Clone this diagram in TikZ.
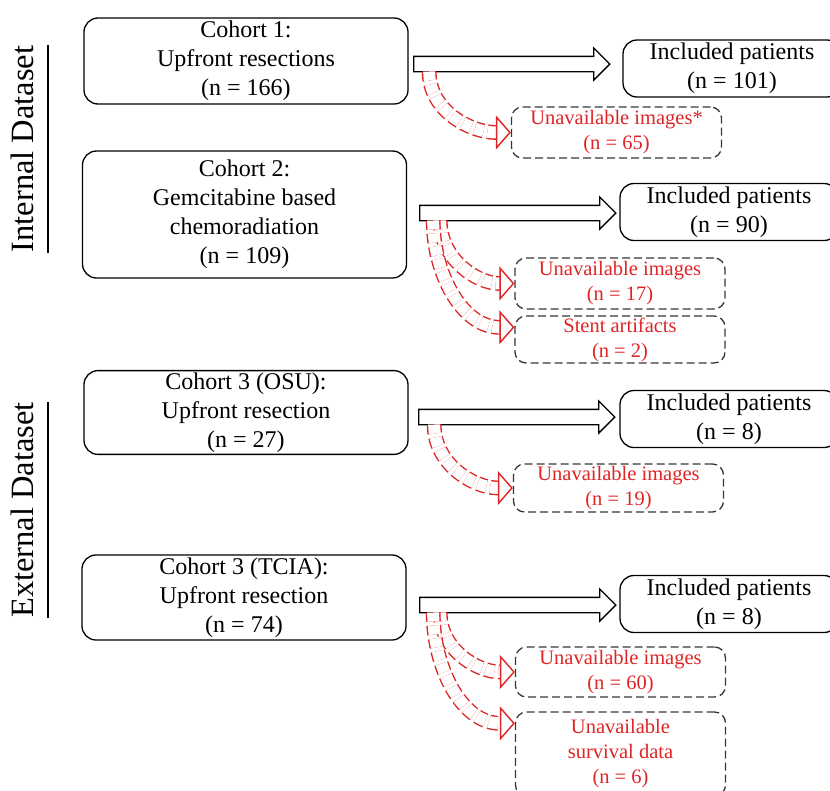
\documentclass[tikz,border=0pt]{standalone}
\usepackage{fontspec}
\setmainfont{Liberation Serif}
\usetikzlibrary{shapes.arrows,arrows.meta}
\definecolor{exred}{RGB}{222,36,36}
\definecolor{dashgray}{RGB}{55,55,55}
\tikzset{
  cohort/.style={draw, line width=1.3pt, rounded corners=14pt, align=center,
    minimum width=324pt, inner sep=2pt, font=\fontsize{24}{29}\selectfont},
  included/.style={cohort, minimum width=218pt, minimum height=57pt},
  excluded/.style={draw=dashgray, line width=1.3pt, dash pattern=on 8pt off 4pt,
    rounded corners=11pt, align=center, text=exred, minimum width=210pt,
    inner sep=1pt, font=\fontsize{20.5}{25}\selectfont},
  flow/.style={single arrow, draw, line width=1.3pt, minimum height=196pt,
    inner xsep=0pt, inner ysep=7pt, single arrow head extend=8.5pt},
  drop/.style={draw=exred, double=white, double distance=12pt, line width=1.4pt,
    dash pattern=on 9pt off 4pt,
    -{Triangle[open,length=15pt,width=34pt,line width=1.4pt]}},
  dataset/.style={rotate=90, anchor=base, inner sep=0pt,
    font=\fontsize{32.5}{38}\selectfont}
}
\begin{document}
\begin{tikzpicture}[x=1pt,y=-1pt]
    \useasboundingbox (0,0) rectangle (830,790);

    % Dataset labels:
    % Rotated text, underlined by a line on its right side
    \node [dataset] (intl) at (33,149) {Internal Dataset};
    \node [dataset] (extl) at (33,510) {External Dataset};
    \draw [line width=1.6pt] ([xshift=15pt]intl.base west) -- ([xshift=15pt]intl.base east);
    \draw [line width=1.6pt] ([xshift=15pt]extl.base west) -- ([xshift=15pt]extl.base east);

    % Cohorts:
    \node [cohort, minimum height=86pt]  (c1) at (246,61)      {Cohort 1:\\Upfront resections\\(n = 166)};
    \node [cohort, minimum height=127pt] (c2) at (244.5,214.5) {Cohort 2:\\Gemcitabine based\\chemoradiation\\(n = 109)};
    \node [cohort, minimum height=83pt]  (c3) at (246,412.5)   {Cohort 3 (OSU):\\Upfront resection\\(n = 27)};
    \node [cohort, minimum height=85pt]  (c4) at (244,597.5)   {Cohort 3 (TCIA):\\Upfront resection\\(n = 74)};

    % Block arrows and included patients:
    \node [flow] (a1) at (508,64)  {};
    \node [flow] (a2) at (514,213) {};
    \node [flow] (a3) at (513,417) {};
    \node [flow] (a4) at (514,605) {};

    \node [included] (i1) at (732,68.5) {Included patients\\(n = 101)};
    \node [included] (i2) at (729,212)  {Included patients\\(n = 90)};
    \node [included] (i3) at (729,419)  {Included patients\\(n = 8)};
    \node [included] (i4) at (729,604)  {Included patients\\(n = 8)};

    % Excluded patients:
    % Dashed boxes with red text
    \node [excluded, minimum height=51pt] (e1) at (616.5,132.5) {Unavailable images*\\(n = 65)};
    \node [excluded, minimum height=51pt] (e2) at (620,283.5)   {Unavailable images\\(n = 17)};
    \node [excluded, minimum height=47pt] (e3) at (620,339.5)   {Stent artifacts\\(n = 2)};
    \node [excluded, minimum height=48pt] (e4) at (618.5,488)   {Unavailable images\\(n = 19)};
    \node [excluded, minimum height=50pt] (e5) at (620.5,672)   {Unavailable images\\(n = 60)};
    \node [excluded, minimum height=84pt] (e6) at (620.5,754)   {Unavailable\\survival data\\(n = 6)};

    % Red dashed arrows, bending down from below the block arrows
    \draw [drop] ([xshift=16pt,yshift=-7.5pt]a1.tail) to[out=-90,in=180] (e1.west);
    \draw [drop] ([xshift=21pt,yshift=-7.5pt]a2.tail) to[out=-90,in=180] (e2.west);
    \draw [drop] ([xshift=14pt,yshift=-7.5pt]a2.tail) to[out=-90,in=180] ([yshift=-12pt]e3.north west);
    \draw [drop] ([xshift=16pt,yshift=-7.5pt]a3.tail) to[out=-90,in=180] (e4.west);
    \draw [drop] ([xshift=21pt,yshift=-7.5pt]a4.tail) to[out=-90,in=180] (e5.west);
    \draw [drop] ([xshift=14pt,yshift=-7.5pt]a4.tail) to[out=-90,in=180] ([yshift=-12pt]e6.north west);
\end{tikzpicture}
\end{document}
